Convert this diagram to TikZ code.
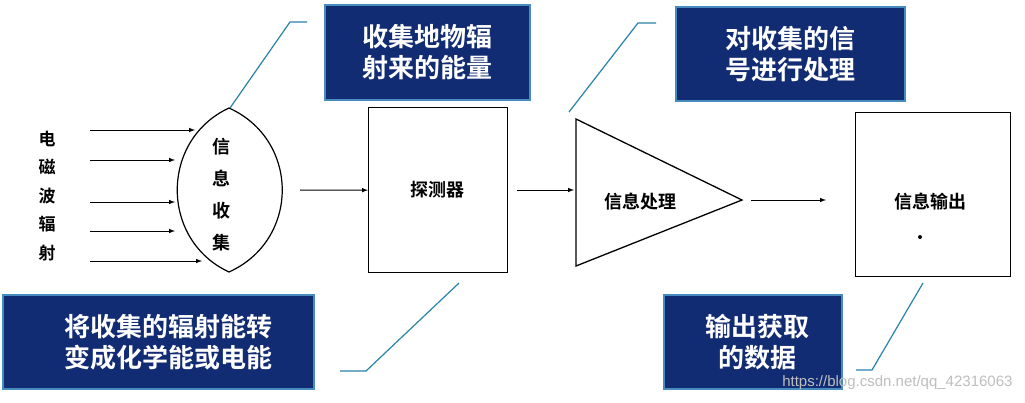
\documentclass[tikz,border=0pt]{standalone}
\usepackage{fontspec}
\newfontfamily\cjkb{Noto Sans CJK SC Bold}
\definecolor{cbord}{RGB}{70,140,190}
\definecolor{cfill}{RGB}{18,44,115}
\definecolor{clead}{RGB}{40,130,170}
\definecolor{cwm}{RGB}{190,190,190}
\begin{document}
\begin{tikzpicture}[x=1pt,y=-1pt,
  callout/.style={draw=cbord,line width=1.5pt,fill=cfill,text=white,font=\cjkb\fontsize{26}{31}\selectfont,align=center,inner sep=0pt,anchor=north west},
  lead/.style={draw=clead,line width=1.2pt},
  arr/.style={-latex,line width=1pt},
  lbl/.style={font=\cjkb\fontsize{18}{20}\selectfont},
  blk/.style={draw,line width=1.3pt,fill=white}]
\useasboundingbox (0,0) rectangle (1025,402);
\fill[white] (0,0) rectangle (1025,402);
% callouts
\node[callout,minimum width=205,minimum height=95] (c1) at (324,4) {收集地物辐\\射来的能量};
\node[callout,minimum width=229,minimum height=94] (c2) at (675,6) {对收集的信\\号进行处理};
\node[callout,minimum width=311,minimum height=94] (c4) at (2,294) {\hspace*{20pt}将收集的辐射能转\\\hspace*{20pt}变成化学能或电能};
\node[callout,minimum width=178,minimum height=94] (c3) at (663,294) {\hspace*{10pt}输出获取\\\hspace*{10pt}的数据};
% lens
\coordinate (lt) at (229,108);
\coordinate (lb) at (229,272);
\draw[line width=1.2pt] (lt) .. controls (160,140) and (160,240) .. (lb);
\draw[line width=1.2pt] (lt) .. controls (300,140) and (300,240) .. (lb);
\node[align=center,font=\cjkb\fontsize{18}{32}\selectfont] (lens) at (221,195) {信\\息\\收\\集};
\node[align=center,font=\cjkb\fontsize{17}{28.5}\selectfont] (em) at (47,196) {电\\磁\\波\\辐\\射};
% incoming arrows
\foreach \y/\e [count=\i] in {130/195,160/175,202/175,231/175,261/202}{
  \coordinate (s\i) at (90,\y); \coordinate (e\i) at (\e,\y);
  \draw[arr] (s\i) -- (e\i);}
% detector
\node[blk,minimum width=139,minimum height=165,anchor=north west] (det) at (368,107) {};
\node[lbl] (detl) at (437,190) {探测器};
\coordinate (a1) at (300,190);
\draw[arr] (a1) -- (det.west);
% triangle
\coordinate (t1) at (576,119); \coordinate (t2) at (576,266); \coordinate (t3) at (742,200);
\draw[line width=1.3pt] (t1) -- (t3) -- (t2) -- cycle;
\node[lbl] (tri) at (640,202) {信息处理};
\coordinate (a2) at (517,190); \coordinate (a2e) at (574,190);
\draw[arr] (a2) -- (a2e);
% output
\node[blk,minimum width=155,minimum height=164,anchor=north west] (out) at (855,112) {};
\node[lbl] (outl) at (930,202) {信息输出};
\fill (920,237) circle (2pt);
\coordinate (a3) at (751,200); \coordinate (a3e) at (826,200);
\draw[arr] (a3) -- (a3e);
% leaders
\coordinate (l1a) at (307,22); \coordinate (l1b) at (290,22); \coordinate (l1c) at (230,108);
\draw[lead] (l1a) -- (l1b) -- (l1c);
\coordinate (l2a) at (656,23); \coordinate (l2b) at (638,23); \coordinate (l2c) at (569,112);
\draw[lead] (l2a) -- (l2b) -- (l2c);
\coordinate (l3a) at (923,283); \coordinate (l3b) at (872,370); \coordinate (l3c) at (856,370);
\draw[lead] (l3a) -- (l3b) -- (l3c);
\coordinate (l4a) at (459,283); \coordinate (l4b) at (366,371); \coordinate (l4c) at (340,371);
\draw[lead] (l4a) -- (l4b) -- (l4c);
% watermark
\node[text=cwm,font=\fontspec{Liberation Sans}\fontsize{15}{15}\selectfont,anchor=east] (wm) at (1016,383) {https://blog.csdn.net/qq\_42316063};
\end{tikzpicture}
\end{document}
